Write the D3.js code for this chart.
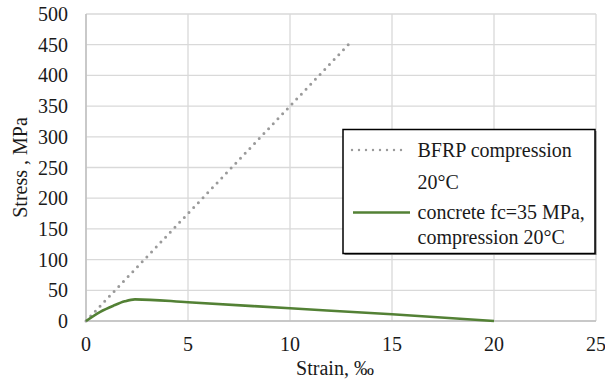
<!DOCTYPE html>
<html><head><meta charset="utf-8"><script src="https://cdn.jsdelivr.net/npm/d3@7"></script></head>
<body style="margin:0;background:#fff">
<svg id="s" width="605" height="379" style="font-family:'Liberation Serif'"></svg>
<script>
// Stress–strain curves in compression at 20°C
const bfrpStrain = [0, 12.857];
const bfrpStress = [0, 450];

const concreteStrain = [0, 0.7, 1.35, 1.9, 2.4, 5, 10, 15, 20];
const concreteStress = [0, 15, 25, 32, 35.3, 30.6, 20.7, 10.9, 0];

const xTicks = [0, 5, 10, 15, 20, 25];
const yTicks = [0, 50, 100, 150, 200, 250, 300, 350, 400, 450, 500];

const seriesNames = ["BFRP compression", "20°C", "concrete fc=35 MPa,", "compression 20°C"];

const fontOf = () => "'Liberation Serif'";

const svg = d3.select("#s");
const margin = { left: 86, right: 9, top: 14, bottom: 58 };
const W = 605, H = 379;

const x = d3.scaleLinear().domain([0, 25]).range([margin.left, W - margin.right]);
const y = d3.scaleLinear().domain([0, 500]).range([H - margin.bottom, margin.top]);

const gridColor = "#d9d9d9";

// gridlines
svg.append("g").selectAll("line").data(yTicks).join("line")
  .attr("x1", x(0)).attr("x2", x(25))
  .attr("y1", d => y(d)).attr("y2", d => y(d))
  .attr("stroke", gridColor).attr("stroke-width", 1.3);
svg.append("g").selectAll("line").data(xTicks).join("line")
  .attr("x1", d => x(d)).attr("x2", d => x(d))
  .attr("y1", y(0)).attr("y2", y(500))
  .attr("stroke", gridColor).attr("stroke-width", 1.3);

// axis lines
svg.append("line").attr("x1", x(0)).attr("x2", x(25)).attr("y1", y(0)).attr("y2", y(0))
  .attr("stroke", "#bfbfbf").attr("stroke-width", 1.5);
svg.append("line").attr("x1", x(0)).attr("x2", x(0)).attr("y1", y(0)).attr("y2", y(500))
  .attr("stroke", "#bfbfbf").attr("stroke-width", 1.5);

// tick labels
svg.append("g").selectAll("text").data(yTicks).join("text")
  .style("font-family", fontOf)
  .attr("x", 68).attr("y", d => y(d)).attr("dy", "0.35em")
  .attr("text-anchor", "end").attr("font-size", 20).attr("fill", "#1a1a1a")
  .text(d => d);
svg.append("g").selectAll("text").data(xTicks).join("text")
  .style("font-family", fontOf)
  .attr("x", d => x(d)).attr("y", 351)
  .attr("text-anchor", "middle").attr("font-size", 20).attr("fill", "#1a1a1a")
  .text(d => d);

// axis titles
svg.append("text").style("font-family", fontOf).attr("x", 335).attr("y", 375).attr("text-anchor", "middle")
  .attr("font-size", 20).attr("fill", "#1a1a1a").text("Strain, ‰");
svg.append("text").style("font-family", fontOf)
  .attr("transform", `translate(27,${(y(0) + y(500)) / 2}) rotate(-90)`)
  .attr("text-anchor", "middle").attr("font-size", 20).attr("fill", "#1a1a1a").text("Stress , MPa");

// series
const line = d3.line().x(d => x(d[0])).y(d => y(d[1]));
const bfrp = d3.zip(bfrpStrain, bfrpStress);
const concrete = d3.zip(concreteStrain, concreteStress);

svg.append("path").datum(bfrp).attr("d", line)
  .attr("fill", "none").attr("stroke", "#9a9a9a").attr("stroke-width", 3)
  .attr("stroke-linecap", "round").attr("stroke-dasharray", "0 6.8");

svg.append("path").datum(concrete).attr("d", line.curve(d3.curveMonotoneX))
  .attr("fill", "none").attr("stroke", "#538135").attr("stroke-width", 2.6)
  .attr("stroke-linejoin", "round");

// legend
const lg = svg.append("g");
lg.append("rect").attr("x", 344.5).attr("y", 131).attr("width", 252).attr("height", 124)
  .attr("fill", "#7f7f7f");
lg.append("rect").attr("x", 343).attr("y", 129.5).attr("width", 252).attr("height", 124)
  .attr("fill", "#fff").attr("stroke", "#000").attr("stroke-width", 1.5);

lg.append("line").attr("x1", 352).attr("x2", 408).attr("y1", 150).attr("y2", 150)
  .attr("stroke", "#9a9a9a").attr("stroke-width", 2.4)
  .attr("stroke-linecap", "round").attr("stroke-dasharray", "0 7");
lg.append("line").attr("x1", 353).attr("x2", 410).attr("y1", 212.5).attr("y2", 212.5)
  .attr("stroke", "#538135").attr("stroke-width", 2.6);

const legendText = [[seriesNames[0], 157], [seriesNames[1], 188.5], [seriesNames[2], 218.5], [seriesNames[3], 243.5]];
lg.selectAll("text").data(legendText).join("text")
  .style("font-family", fontOf)
  .attr("x", 417.5).attr("y", d => d[1])
  .attr("font-size", 20).attr("fill", "#1a1a1a")
  .text(d => d[0]);
</script>
</body>
</html>
